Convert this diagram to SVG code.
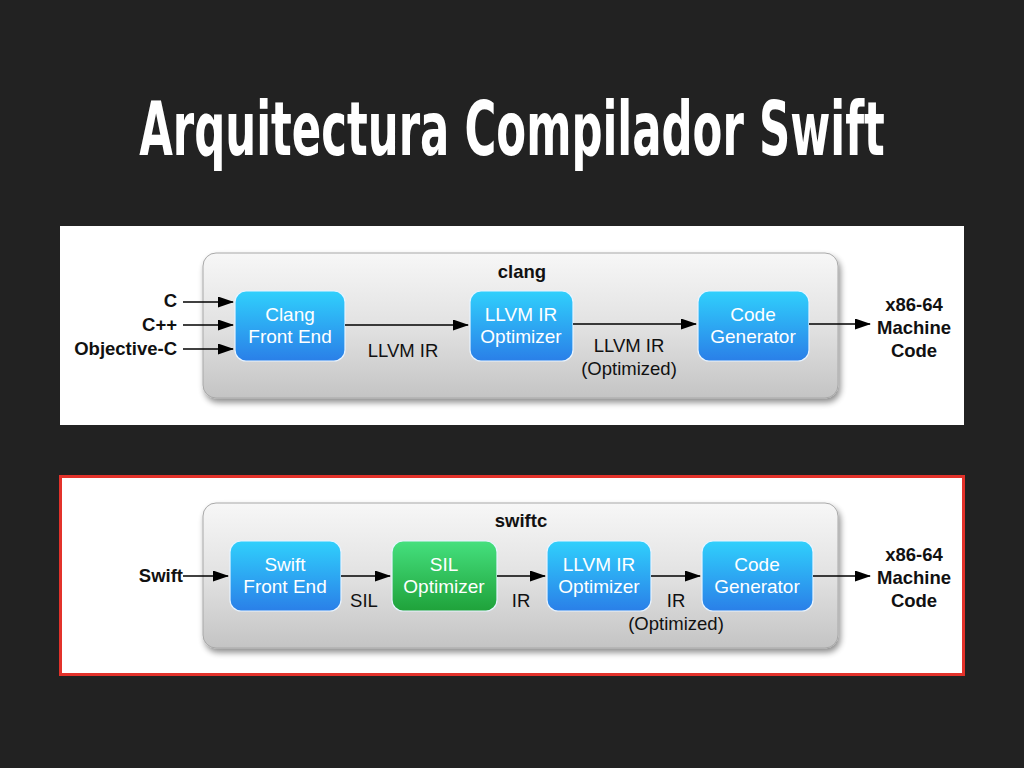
<svg xmlns="http://www.w3.org/2000/svg" width="1024" height="768" viewBox="0 0 1024 768">
<defs>
<linearGradient id="gray" x1="0" y1="0" x2="0" y2="1">
<stop offset="0" stop-color="#f7f7f7"/><stop offset="0.5" stop-color="#e2e2e2"/><stop offset="1" stop-color="#c4c4c4"/>
</linearGradient>
<linearGradient id="blue" x1="0" y1="0" x2="0" y2="1">
<stop offset="0" stop-color="#30d0fc"/><stop offset="1" stop-color="#2a7fe8"/>
</linearGradient>
<linearGradient id="green" x1="0" y1="0" x2="0" y2="1">
<stop offset="0" stop-color="#45e07e"/><stop offset="1" stop-color="#1fa23a"/>
</linearGradient>
<filter id="sh" x="-10%" y="-10%" width="120%" height="130%">
<feGaussianBlur in="SourceAlpha" stdDeviation="3"/>
<feOffset dx="2" dy="4" result="b"/>
<feComponentTransfer><feFuncA type="linear" slope="0.45"/></feComponentTransfer>
<feMerge><feMergeNode/><feMergeNode in="SourceGraphic"/></feMerge>
</filter>
<marker id="ah" markerWidth="16" markerHeight="11" refX="15" refY="5.5" orient="auto" markerUnits="userSpaceOnUse">
<path d="M0,0 L16,5.5 L0,11 Z" fill="#000"/>
</marker>
</defs>
<style>
.lbl{font-family:"Liberation Sans",Arial,sans-serif;font-size:18.5px;fill:#111;}
.b{font-weight:bold;}
.nt{font-family:"Liberation Sans",Arial,sans-serif;font-size:19px;fill:#fff;text-anchor:middle;}
.node{stroke:#e8f4ff;stroke-width:1.2;}
.conn line{stroke:#000;stroke-width:1.6;marker-end:url(#ah);}
.grp{fill:url(#gray);stroke:#a8a8a8;stroke-width:1;}
</style>
<rect width="1024" height="768" fill="#222222"/>
<text transform="translate(512,155) scale(0.579,1)" x="0" y="0" text-anchor="middle" font-family="'DejaVu Sans',sans-serif" font-weight="bold" font-size="75" fill="#fff">Arquitectura Compilador Swift</text>

<!-- top panel -->
<rect x="60" y="226" width="904" height="199" fill="#ffffff"/>
<g id="clang-group">
<rect class="grp" x="203" y="253" width="635" height="145" rx="13" filter="url(#sh)"/>
<text x="522" y="278" class="lbl b" text-anchor="middle">clang</text>
</g>
<g id="clang-fe"><rect class="node" x="235" y="291" width="110" height="70" rx="11" fill="url(#blue)"/>
<text class="nt" x="290" y="321">Clang</text><text class="nt" x="290" y="343">Front End</text></g>
<g id="clang-opt"><rect class="node" x="470" y="291" width="103" height="70" rx="11" fill="url(#blue)"/>
<text class="nt" x="521" y="321">LLVM IR</text><text class="nt" x="521" y="343">Optimizer</text></g>
<g id="clang-cg"><rect class="node" x="698" y="291" width="111" height="70" rx="11" fill="url(#blue)"/>
<text class="nt" x="753" y="321">Code</text><text class="nt" x="753" y="343">Generator</text></g>
<g id="clang-in">
<text class="lbl b" x="177" y="307" text-anchor="end">C</text>
<text class="lbl b" x="177" y="331" text-anchor="end">C++</text>
<text class="lbl b" x="177" y="355" text-anchor="end">Objective-C</text>
</g>
<g id="clang-out">
<text class="lbl b" x="914" y="311" text-anchor="middle">x86-64</text>
<text class="lbl b" x="914" y="334" text-anchor="middle">Machine</text>
<text class="lbl b" x="914" y="357" text-anchor="middle">Code</text>
</g>
<g class="conn" id="clang-connectors">
<line x1="183" y1="302" x2="233" y2="302"/>
<line x1="183" y1="325" x2="233" y2="325"/>
<line x1="183" y1="349" x2="233" y2="349"/>
<line x1="345" y1="325" x2="468" y2="325"/>
<line x1="573" y1="324" x2="696" y2="324"/>
<line x1="809" y1="324" x2="870" y2="324"/>
</g>
<text class="lbl" x="403" y="357" text-anchor="middle">LLVM IR</text>
<text class="lbl" x="629" y="352" text-anchor="middle">LLVM IR</text>
<text class="lbl" x="629" y="375" text-anchor="middle">(Optimized)</text>

<!-- bottom panel -->
<rect x="60.5" y="476.5" width="903" height="198" fill="#ffffff" stroke="#e3322b" stroke-width="3"/>
<g id="swiftc-group">
<rect class="grp" x="203" y="503" width="635" height="145" rx="13" filter="url(#sh)"/>
<text x="521" y="527" class="lbl b" text-anchor="middle">swiftc</text>
</g>
<g id="swift-fe"><rect class="node" x="230" y="541" width="111" height="70" rx="11" fill="url(#blue)"/>
<text class="nt" x="285" y="571">Swift</text><text class="nt" x="285" y="593">Front End</text></g>
<g id="sil-opt"><rect class="node" x="392" y="541" width="105" height="70" rx="11" fill="url(#green)"/>
<text class="nt" x="444" y="571">SIL</text><text class="nt" x="444" y="593">Optimizer</text></g>
<g id="swift-llvm-opt"><rect class="node" x="547" y="541" width="104" height="70" rx="11" fill="url(#blue)"/>
<text class="nt" x="599" y="571">LLVM IR</text><text class="nt" x="599" y="593">Optimizer</text></g>
<g id="swift-cg"><rect class="node" x="702" y="541" width="111" height="70" rx="11" fill="url(#blue)"/>
<text class="nt" x="757" y="571">Code</text><text class="nt" x="757" y="593">Generator</text></g>
<g id="swift-in"><text class="lbl b" x="183" y="582" text-anchor="end">Swift</text></g>
<g id="swift-out">
<text class="lbl b" x="914" y="561" text-anchor="middle">x86-64</text>
<text class="lbl b" x="914" y="584" text-anchor="middle">Machine</text>
<text class="lbl b" x="914" y="607" text-anchor="middle">Code</text>
</g>
<g class="conn" id="swift-connectors">
<line x1="183" y1="576" x2="228" y2="576"/>
<line x1="341" y1="576" x2="390" y2="576"/>
<line x1="497" y1="576" x2="545" y2="576"/>
<line x1="651" y1="576" x2="700" y2="576"/>
<line x1="813" y1="576" x2="870" y2="576"/>
</g>
<text class="lbl" x="364" y="607" text-anchor="middle">SIL</text>
<text class="lbl" x="521" y="607" text-anchor="middle">IR</text>
<text class="lbl" x="676" y="607" text-anchor="middle">IR</text>
<text class="lbl" x="676" y="630" text-anchor="middle">(Optimized)</text>
</svg>
